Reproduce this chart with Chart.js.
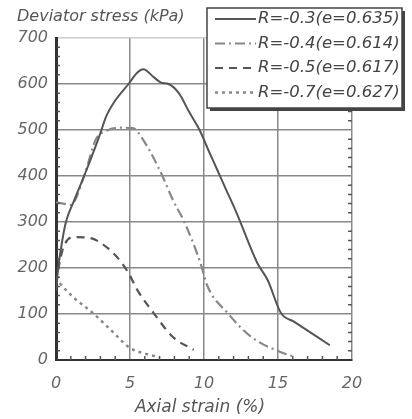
<!DOCTYPE html>
<html>
<head>
<meta charset="utf-8">
<script src="https://cdn.jsdelivr.net/npm/chart.js@4/dist/chart.umd.min.js"></script>
<style>
  html, body { margin: 0; padding: 0; background: #fff; }
  #wrap { position: relative; width: 412px; height: 419px; }
</style>
</head>
<body>
<div id="wrap"><canvas id="chart" width="412" height="419"></canvas></div>
<script>
// values
const strainR03 = [0, 0.15, 0.4, 0.67, 1.2, 1.9, 2.9, 3.4, 4.0, 4.9, 5.5, 5.9, 6.6, 7.1, 7.6, 8.3, 9.0, 9.7, 10.3, 10.9, 11.5, 12.2, 13.6, 14.3, 15.2, 16.1, 18.5];
const stressR03 = [150, 200, 255, 300, 345, 400, 484, 530, 564, 600, 625, 632, 615, 603, 600, 580, 539, 500, 456, 413, 370, 320, 211, 174, 102, 83, 32];

const strainR04 = [0, 0.5, 1.0, 1.9, 2.7, 3.4, 4.2, 5.2, 5.9, 7.0, 7.9, 8.7, 9.8, 10.2, 11.6, 13.2, 15.2, 16.1];
const stressR04 = [343, 340, 337, 400, 480, 498, 505, 504, 478, 413, 348, 298, 207, 163, 102, 50, 17, 7];

const strainR05 = [0, 0.2, 0.5, 1.15, 2.3, 3.5, 4.3, 4.9, 5.5, 6.6, 7.9, 9.3];
const stressR05 = [165, 205, 245, 267, 265, 243, 217, 189, 152, 102, 50, 22];

const strainR07 = [0, 0.27, 1.15, 2.5, 3.9, 5.0, 5.9, 7.0];
const stressR07 = [180, 167, 137, 102, 59, 26, 15, 6];

const seriesLabels = ["R=-0.3(e=0.635)", "R=-0.4(e=0.614)", "R=-0.5(e=0.617)", "R=-0.7(e=0.627)"];
const xTicks = [0, 5, 10, 15, 20];
const yTicks = [0, 100, 200, 300, 400, 500, 600, 700];

const FONT = "'DejaVu Sans', sans-serif";

function toPoints(xs, ys) {
  return xs.map((x, i) => ({ x: x, y: ys[i] }));
}

function makeSet(label, xs, ys, color, width, dash) {
  return {
    label: label,
    data: toPoints(xs, ys),
    showLine: true,
    borderColor: color,
    borderWidth: width,
    borderDash: dash,
    pointRadius: 0,
    cubicInterpolationMode: "monotone",
    fill: false,
  };
}

// axis titles, minor ticks, legend box
const extras = {
  id: "extras",
  afterDatasetsDraw(chart) {
    const ctx = chart.ctx;
    const xs = chart.scales.x;
    const ys = chart.scales.y;
    const a = chart.chartArea;
    ctx.save();

    // minor ticks
    ctx.strokeStyle = "#555";
    ctx.lineWidth = 1.5;
    for (let v = 20; v < 700; v += 20) {
      if (v % 100 === 0) continue;
      const y = ys.getPixelForValue(v);
      ctx.beginPath();
      ctx.moveTo(a.left + 1, y); ctx.lineTo(a.left + 4, y);
      ctx.moveTo(a.right - 4, y); ctx.lineTo(a.right, y);
      ctx.stroke();
    }
    for (let v = 1; v < 20; v++) {
      if (v % 5 === 0) continue;
      const x = xs.getPixelForValue(v);
      ctx.beginPath();
      ctx.moveTo(x, a.bottom); ctx.lineTo(x, a.bottom - 4);
      ctx.stroke();
    }

    // axis titles
    ctx.fillStyle = "#555";
    ctx.textBaseline = "middle";
    ctx.textAlign = "left";
    ctx.font = "italic 16px " + FONT;
    ctx.fillText("Deviator stress (kPa)", 17, 17);
    ctx.textAlign = "center";
    ctx.font = "italic 17px " + FONT;
    ctx.fillText("Axial strain (%)", 200, 408);

    // legend box
    const bx = 207, by = 8, bw = 195, bh = 100;
    ctx.fillStyle = "#444";
    ctx.fillRect(bx + 3, by + 3, bw, bh);
    ctx.fillStyle = "#fff";
    ctx.fillRect(bx, by, bw, bh);
    ctx.strokeStyle = "#444";
    ctx.lineWidth = 1.5;
    ctx.strokeRect(bx, by, bw, bh);

    ctx.font = "italic 16.5px " + FONT;
    ctx.textAlign = "left";
    chart.data.datasets.forEach((ds, i) => {
      const y = 19 + i * 24.5;
      ctx.strokeStyle = ds.borderColor;
      ctx.lineWidth = ds.borderWidth;
      ctx.setLineDash(ds.borderDash || []);
      ctx.beginPath();
      ctx.moveTo(215, y);
      ctx.lineTo(256, y);
      ctx.stroke();
      ctx.setLineDash([]);
      ctx.fillStyle = "#444";
      ctx.fillText(ds.label, 258, y);
    });

    ctx.restore();
  },
};

new Chart(document.getElementById("chart"), {
  type: "scatter",
  data: {
    datasets: [
      makeSet(seriesLabels[0], strainR03, stressR03, "#555", 2, []),
      makeSet(seriesLabels[1], strainR04, stressR04, "#888", 2.2, [10, 4, 2, 4]),
      makeSet(seriesLabels[2], strainR05, stressR05, "#555", 2.2, [8, 6]),
      makeSet(seriesLabels[3], strainR07, stressR07, "#888", 2.5, [3, 4]),
    ],
  },
  plugins: [extras],
  options: {
    responsive: false,
    animation: false,
    layout: { padding: { left: 0, top: 38, right: 60, bottom: 0 } },
    plugins: { legend: { display: false }, tooltip: { enabled: false } },
    scales: {
      x: {
        type: "linear",
        min: 0,
        max: 20,
        afterBuildTicks(scale) { scale.ticks = xTicks.map((v) => ({ value: v })); },
        afterFit(scale) { scale.height = 59; },
        grid: { color: "#888", lineWidth: 1.5, drawTicks: false },
        border: { display: true, color: "#333", width: 2 },
        ticks: { color: "#666", padding: 14, font: { family: FONT, size: 16, style: "italic" } },
      },
      y: {
        min: 0,
        max: 700,
        afterBuildTicks(scale) { scale.ticks = yTicks.map((v) => ({ value: v })); },
        afterFit(scale) { scale.width = 56; },
        grid: {
          color: (c) => (c.tick && c.tick.value === 700 ? "#ccc" : "#888"),
          lineWidth: 1.5,
          drawTicks: false,
        },
        border: { display: true, color: "#333", width: 3 },
        ticks: { color: "#666", padding: 8, font: { family: FONT, size: 16, style: "italic" } },
      },
    },
  },
});
</script>
</body>
</html>
